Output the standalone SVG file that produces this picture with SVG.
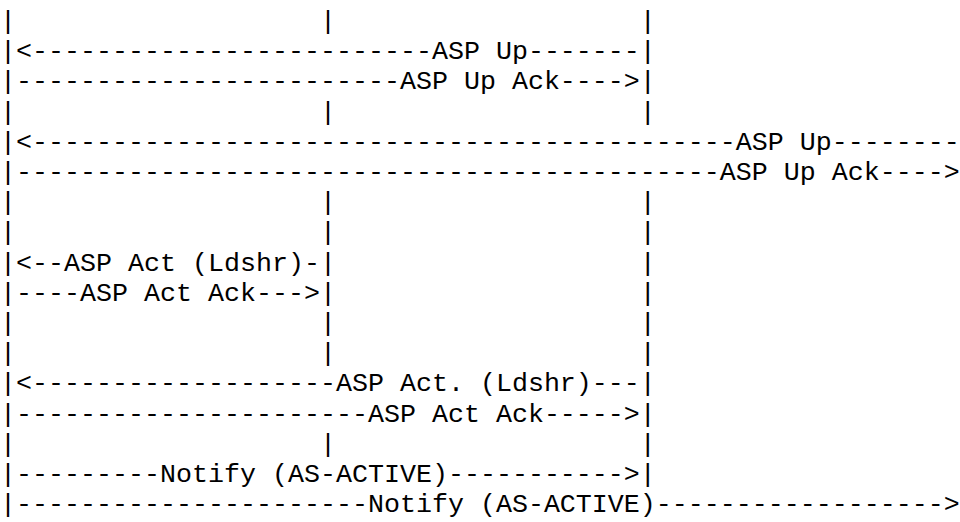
<svg xmlns="http://www.w3.org/2000/svg" width="960" height="522" viewBox="0 0 960 522">
<style>
text{font-family:"Liberation Mono","Courier New",monospace;font-size:26.667px;fill:#000;white-space:pre}
</style>
<rect width="960" height="522" fill="#fff"/>
<g id="lifelines" xml:space="preserve">
<text x="0" y="29">|                   |                   |</text>
<text x="0" y="119.6">|                   |                   |</text>
<text x="0" y="210.2">|                   |                   |</text>
<text x="0" y="240.4">|                   |                   |</text>
<text x="0" y="331">|                   |                   |</text>
<text x="0" y="361.2">|                   |                   |</text>
<text x="0" y="451.8">|                   |                   |</text>
</g>
<g id="connectors" xml:space="preserve">
<text x="0" y="59.2">|&lt;-------------------------ASP Up-------|</text>
<text x="0" y="89.4">|------------------------ASP Up Ack----&gt;|</text>
<text x="0" y="149.8">|&lt;--------------------------------------------ASP Up--------</text>
<text x="0" y="180">|--------------------------------------------ASP Up Ack----&gt;</text>
<text x="0" y="270.6">|&lt;--ASP Act (Ldshr)-|                   |</text>
<text x="0" y="300.8">|----ASP Act Ack---&gt;|                   |</text>
<text x="0" y="391.4">|&lt;-------------------ASP Act. (Ldshr)---|</text>
<text x="0" y="421.6">|----------------------ASP Act Ack-----&gt;|</text>
<text x="0" y="482">|---------Notify (AS-ACTIVE)-----------&gt;|</text>
<text x="0" y="512.2">|----------------------Notify (AS-ACTIVE)------------------&gt;</text>
</g>
</svg>
